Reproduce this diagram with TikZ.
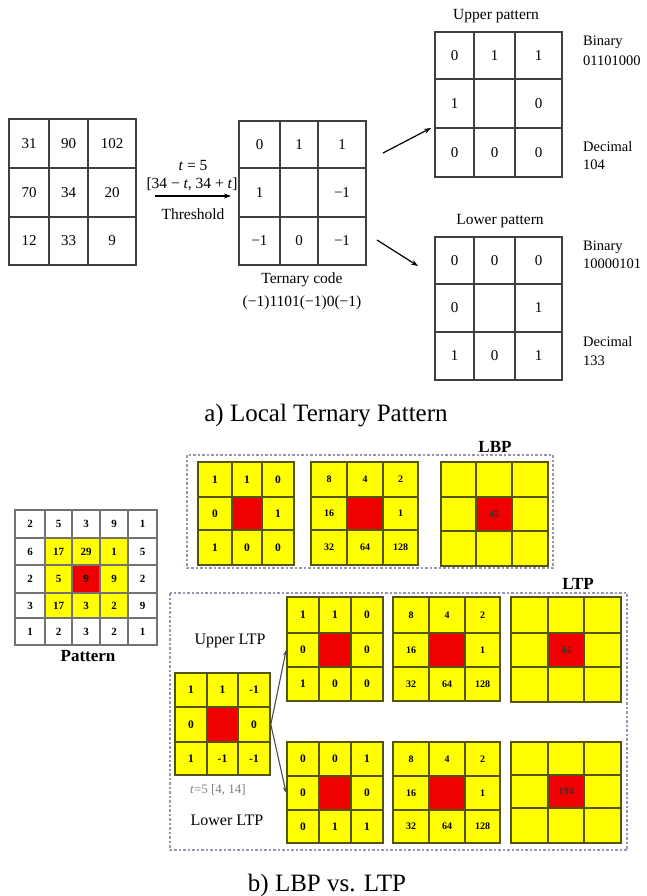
\documentclass[tikz,border=0pt]{standalone}
\usepackage{fontspec}
\setmainfont{Liberation Serif}
\usetikzlibrary{arrows.meta,calc}

\definecolor{gridolive}{RGB}{85,85,10}
\definecolor{dashgray}{RGB}{150,150,178}
\definecolor{pyellow}{RGB}{255,255,0}
\definecolor{pred}{RGB}{240,0,0}

% one rectangular cell: options, name, x0, y0, x1, y1, text
\newcommand\gcellbox[7]{%
  \pgfmathsetmacro\cellw{#5-#3}\pgfmathsetmacro\cellh{#6-#4}%
  \pgfmathsetmacro\cellx{(#3+#5)/2}\pgfmathsetmacro\celly{(#4+#6)/2}%
  \node[#1, minimum width=\cellw pt, minimum height=\cellh pt] (#2) at (\cellx,\celly) {#7};}
\newcommand\setcols[4]{\def\Xa{#1}\def\Xb{#2}\def\Xc{#3}\def\Xd{#4}}
\newcommand\setrows[4]{\def\Ya{#1}\def\Yb{#2}\def\Yc{#3}\def\Yd{#4}}
\def\ctext{}
% 3x3 grid: name, then the eight outer values in reading order
\newcommand\gridnine[9]{%
  \gcellbox{gcell}{#1-11}{\Xa}{\Ya}{\Xb}{\Yb}{#2}
  \gcellbox{gcell}{#1-12}{\Xb}{\Ya}{\Xc}{\Yb}{#3}
  \gcellbox{gcell}{#1-13}{\Xc}{\Ya}{\Xd}{\Yb}{#4}
  \gcellbox{gcell}{#1-21}{\Xa}{\Yb}{\Xb}{\Yc}{#5}
  \gcellbox{gcell}{#1-23}{\Xc}{\Yb}{\Xd}{\Yc}{#6}
  \gcellbox{gcell}{#1-31}{\Xa}{\Yc}{\Xb}{\Yd}{#7}
  \gcellbox{gcell}{#1-32}{\Xb}{\Yc}{\Xc}{\Yd}{#8}
  \gcellbox{gcell}{#1-33}{\Xc}{\Yc}{\Xd}{\Yd}{#9}
  \gcellbox{ccell}{#1-22}{\Xb}{\Yb}{\Xc}{\Yc}{\ctext}}

\begin{document}
\begin{tikzpicture}[x=1pt,y=-1pt,
  topcell/.style={draw=black!75, line width=1.4pt, inner sep=0pt,
    font=\fontsize{15}{17}\selectfont},
  ycell/.style={draw=gridolive, fill=pyellow, line width=1.6pt, inner sep=0pt,
    font=\bfseries\fontsize{11.5}{13}\selectfont},
  rcell/.style={ycell, fill=pred},
  wcell/.style={ycell, font=\bfseries\fontsize{10}{12}\selectfont},
  patcell/.style={draw=black!55, line width=1.3pt, inner sep=0pt,
    font=\bfseries\fontsize{11}{13}\selectfont},
  txt/.style={inner sep=0pt, font=\fontsize{15.5}{17}\selectfont},
  side/.style={inner sep=0pt, anchor=base west, font=\fontsize{14.5}{16}\selectfont},
  lbl/.style={inner sep=0pt, font=\fontsize{16}{18}\selectfont},
  head/.style={inner sep=0pt, font=\bfseries\fontsize{17}{19}\selectfont},
  caption/.style={inner sep=0pt, anchor=base, font=\fontsize{25}{28}\selectfont},
  frame/.style={draw=dashgray, line width=1.3pt, dash pattern=on 2.5pt off 2pt},
  arr/.style={line width=1.2pt, -{Stealth[length=7pt,width=5pt]}},
  darr/.style={draw=black!70, line width=1.1pt, -{Stealth[length=6pt,width=4.5pt]}}]

\useasboundingbox (0,0) rectangle (647,896);
\fill[white] (0,0) rectangle (647,896);

% ---------------- a) local ternary pattern ----------------
\tikzset{gcell/.style={topcell}, ccell/.style={topcell}}
\setcols{9}{49}{88}{136}\setrows{119}{168}{217}{265}
\def\ctext{34}
\gridnine{in}{31}{90}{102}{70}{20}{12}{33}{9}

\def\ctext{}
\setcols{239}{280}{318}{366}\setrows{121}{168}{217}{265}
\gridnine{tc}{0}{1}{1}{1}{−1}{−1}{0}{−1}

\setcols{435}{474}{515}{562}\setrows{32}{79}{128}{177}
\gridnine{up}{0}{1}{1}{1}{0}{0}{0}{0}

\setcols{435}{474}{515}{562}\setrows{237}{284}{332}{380}
\gridnine{lo}{0}{0}{0}{0}{1}{1}{0}{1}

% threshold step
\coordinate (thA) at (155,196);
\coordinate (thB) at (231,196);
\draw[arr] (thA) -- (thB);
\node[txt] (tval) at (193,166) {\textit{t} = 5};
\node[txt] (trange) at (192,184) {[34 − \textit{t}, 34 + \textit{t}]};
\node[txt] (thr) at (193,214) {Threshold};

\node[txt] (tcode) at (302,280) {Ternary code};
\node[txt] (tstr) at (302,303) {(−1)1101(−1)0(−1)};

% split into upper and lower patterns
\coordinate (ua) at (383,153);
\coordinate (ub) at (431,128);
\draw[arr] (ua) -- (ub);
\coordinate (la) at (377,240);
\coordinate (lb) at (418,266);
\draw[arr] (la) -- (lb);

\node[txt] (uptitle) at (496,16) {Upper pattern};
\node[txt] (lotitle) at (500,221) {Lower pattern};

\node[side] (ubin) at (583,46) {Binary};
\node[side] (ubinv) at (583,66) {01101000};
\node[side] (udec) at (583,152) {Decimal};
\node[side] (udecv) at (583,170) {104};

\node[side] (lbin) at (583,250) {Binary};
\node[side] (lbinv) at (583,268) {10000101};
\node[side] (ldec) at (583,346) {Decimal};
\node[side] (ldecv) at (583,365) {133};

\node[caption] (capa) at (326,421) {a) Local Ternary Pattern};

% ---------------- b) LBP vs. LTP ----------------
% 5x5 neighbourhood
\def\PX{{15,45,72,100,128,157}}
\def\PY{{510,538,565,593,618,645}}
\foreach \prow [count=\r] in {{2,5,3,9,1},{6,17,29,1,5},{2,5,9,9,2},{3,17,3,2,9},{1,2,3,2,1}} {
  \foreach \v [count=\c] in \prow {
    \pgfmathsetmacro\pxa{\PX[\c-1]}\pgfmathsetmacro\pxb{\PX[\c]}
    \pgfmathsetmacro\pya{\PY[\r-1]}\pgfmathsetmacro\pyb{\PY[\r]}
    \def\pfill{white}
    \ifnum\r>1 \ifnum\r<5 \ifnum\c>1 \ifnum\c<5 \def\pfill{pyellow}\fi\fi\fi\fi
    \ifnum\r=3 \ifnum\c=3 \def\pfill{pred}\fi\fi
    \gcellbox{patcell, fill=\pfill}{pat-\r-\c}{\pxa}{\pya}{\pxb}{\pyb}{\v}
  }
}
\node[head] (patlbl) at (88,656) {Pattern};

% LBP frame
\draw[frame] (187,455) rectangle (553,568);
\node[head] (lbplbl) at (495,447) {LBP};

\tikzset{gcell/.style={ycell}, ccell/.style={rcell}}
\def\ctext{}
\setcols{198}{232}{262}{294}\setrows{462}{497}{530}{565}
\gridnine{lbpa}{1}{1}{0}{0}{1}{1}{0}{0}

\tikzset{gcell/.style={wcell}}
\setcols{311}{347}{383}{418}
\gridnine{lbpw}{8}{4}{2}{16}{1}{32}{64}{128}

\tikzset{gcell/.style={ycell}, ccell/.style={rcell, font=\bfseries\fontsize{10}{12}\selectfont, text=black!80}}
\def\ctext{45}
\setcols{441}{476}{512}{548}\setrows{462}{497}{531}{566}
\gridnine{lbpr}{}{}{}{}{}{}{}{}

% LTP frame
\draw[frame] (170,593) rectangle (627,850);
\node[head] (ltplbl) at (578,584) {LTP};

\tikzset{gcell/.style={ycell}, ccell/.style={rcell}}
\def\ctext{}
\setcols{175}{207}{238}{270}\setrows{673}{707}{742}{775}
\gridnine{ter}{1}{1}{-1}{0}{0}{1}{-1}{-1}

\node[lbl] (uplbl) at (230,641) {Upper LTP};
\node[lbl] (lolbl) at (227,820) {Lower LTP};
\node[inner sep=0pt, font=\fontsize{13}{15}\selectfont, text=black!50] (tlbl) at (218,790) {\textit{t}=5 [4, 14]};

% upper LTP row
\setcols{287}{319}{351}{383}\setrows{597}{633}{667}{701}
\gridnine{upa}{1}{1}{0}{0}{0}{1}{0}{0}
\tikzset{gcell/.style={wcell}}
\setcols{393}{429}{465}{500}
\gridnine{upw}{8}{4}{2}{16}{1}{32}{64}{128}
\tikzset{gcell/.style={ycell}, ccell/.style={rcell, font=\bfseries\fontsize{10}{12}\selectfont, text=black!80}}
\def\ctext{44}
\setcols{511}{548}{584}{621}\setrows{597}{633}{667}{702}
\gridnine{upr}{}{}{}{}{}{}{}{}

% lower LTP row
\tikzset{gcell/.style={ycell}, ccell/.style={rcell}}
\def\ctext{}
\setcols{287}{319}{351}{383}\setrows{742}{776}{810}{843}
\gridnine{loa}{0}{0}{1}{0}{0}{0}{1}{1}
\tikzset{gcell/.style={wcell}}
\setcols{393}{429}{465}{500}
\gridnine{low}{8}{4}{2}{16}{1}{32}{64}{128}
\tikzset{gcell/.style={ycell}, ccell/.style={rcell, font=\bfseries\fontsize{10}{12}\selectfont, text=black!80}}
\def\ctext{194}
\setcols{511}{548}{584}{621}\setrows{742}{775}{808}{843}
\gridnine{lor}{}{}{}{}{}{}{}{}

% split arrows
\draw[darr] (ter-23.east) -- (upa-21.west);
\draw[darr] (ter-23.east) -- (loa-21.west);

\node[caption] (capb) at (327,891) {b) LBP vs. LTP};
\end{tikzpicture}
\end{document}
